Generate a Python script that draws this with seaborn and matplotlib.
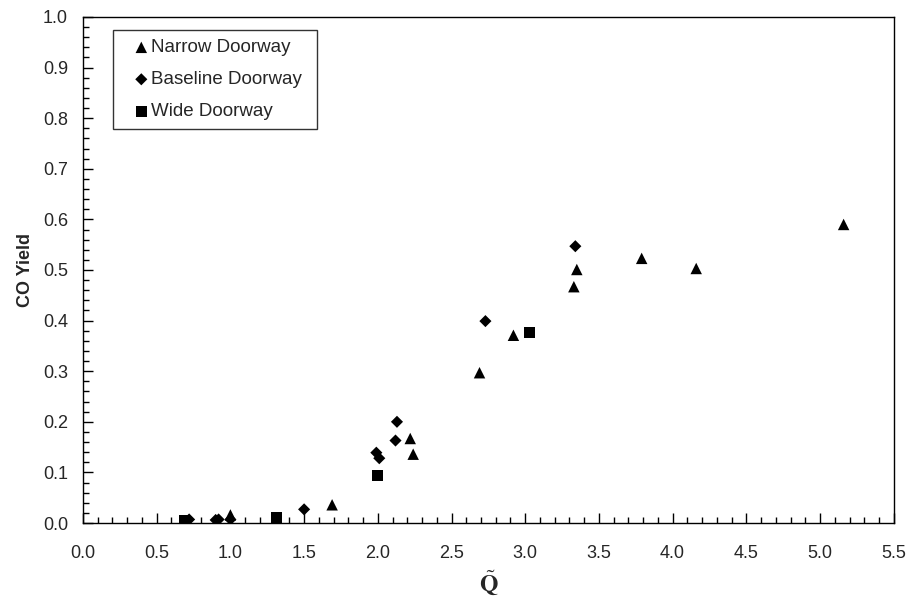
import matplotlib
matplotlib.use("Agg")
import matplotlib.pyplot as plt
from matplotlib.ticker import MultipleLocator, FormatStrFormatter
import seaborn as sns
import pandas as pd

# Dimensionless heat release rate vs. CO yield for three doorway widths
narrow_q = [1.00, 1.69, 2.22, 2.24, 2.69, 2.92, 3.33, 3.35, 3.79, 4.16, 5.16]
narrow_co = [0.016, 0.036, 0.167, 0.136, 0.297, 0.371, 0.467, 0.501, 0.523, 0.503, 0.590]

baseline_q = [0.72, 0.90, 0.92, 1.00, 1.50, 1.99, 2.01, 2.12, 2.13, 2.73, 3.34]
baseline_co = [0.007, 0.006, 0.007, 0.007, 0.027, 0.139, 0.128, 0.163, 0.200, 0.399, 0.547]

wide_q = [0.69, 1.31, 2.00, 3.03]
wide_co = [0.005, 0.011, 0.093, 0.376]

series_names = ["Narrow Doorway", "Baseline Doorway", "Wide Doorway"]

df = pd.concat([
    pd.DataFrame({"Q": narrow_q, "CO": narrow_co, "Doorway": series_names[0]}),
    pd.DataFrame({"Q": baseline_q, "CO": baseline_co, "Doorway": series_names[1]}),
    pd.DataFrame({"Q": wide_q, "CO": wide_co, "Doorway": series_names[2]}),
], ignore_index=True)

sns.set_style("white")
plt.rcParams["font.family"] = ["Liberation Sans", "DejaVu Sans"]
plt.rcParams["mathtext.fontset"] = "stix"

fig = plt.figure(figsize=(9.13, 5.98), dpi=100)
ax = fig.add_axes([0.0909, 0.1254, 0.888, 0.8462])

markers = {series_names[0]: "^", series_names[1]: "D", series_names[2]: "s"}
sizes = {series_names[0]: 68, series_names[1]: 38, series_names[2]: 62}

for name in series_names:
    sub = df[df["Doorway"] == name]
    sns.scatterplot(data=sub, x="Q", y="CO", marker=markers[name], s=sizes[name],
                    color="black", edgecolor="none", linewidth=0, ax=ax,
                    label=name, zorder=3)

ax.set_xlim(0, 5.5)
ax.set_ylim(0, 1.0)
ax.xaxis.set_major_locator(MultipleLocator(0.5))
ax.xaxis.set_minor_locator(MultipleLocator(0.1))
ax.yaxis.set_major_locator(MultipleLocator(0.1))
ax.yaxis.set_minor_locator(MultipleLocator(0.02))
ax.xaxis.set_major_formatter(FormatStrFormatter("%.1f"))
ax.yaxis.set_major_formatter(FormatStrFormatter("%.1f"))

ax.tick_params(which="both", direction="in", bottom=True, left=True,
               top=False, right=False, color="black", width=1.0)
ax.tick_params(which="major", length=7, labelsize=13)
ax.tick_params(which="minor", length=4)
ax.tick_params(axis="x", which="major", pad=15.5)
ax.tick_params(axis="y", which="major", pad=10.8)

for sp in ax.spines.values():
    sp.set_visible(True)
    sp.set_color("black")
    sp.set_linewidth(1.0)

ax.set_xlabel(r"$\tilde{\mathbf{Q}}$", fontsize=17, labelpad=5)
ax.set_ylabel("CO Yield", fontsize=13, fontweight="bold", labelpad=6.5)

leg = ax.legend(loc="upper left", bbox_to_anchor=(0.037, 0.974, 0.2515, 0),
                mode="expand", frameon=True, fancybox=False, edgecolor="black",
                fontsize=13.5, handletextpad=-0.5, labelspacing=0.79,
                borderpad=0.48, handlelength=2.06, borderaxespad=0)
leg.get_frame().set_linewidth(1.0)

fig.savefig("out.png", dpi=100, facecolor="white")
